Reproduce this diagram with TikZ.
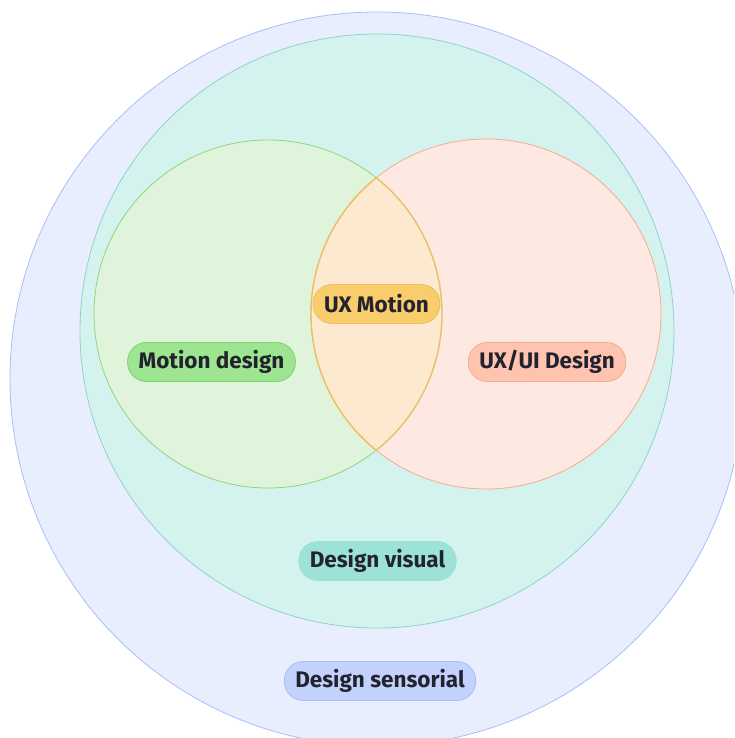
\documentclass[tikz,border=0pt]{standalone}
\usepackage{fontspec}
\setmainfont{Fira Sans}
\usepackage{tikz}

\definecolor{sensfill}{HTML}{E8EEFD}
\definecolor{sensline}{HTML}{A9BEF9}
\definecolor{senspill}{HTML}{C3D2FD}
\definecolor{visfill}{HTML}{D5F3EE}
\definecolor{visline}{HTML}{8FD4C7}
\definecolor{vispill}{HTML}{9CE2D6}
\definecolor{motfill}{HTML}{E0F4DC}
\definecolor{motline}{HTML}{8ED57F}
\definecolor{motpill}{HTML}{9EE592}
\definecolor{motpillline}{HTML}{7FD170}
\definecolor{uxfill}{HTML}{FEE8E2}
\definecolor{uxline}{HTML}{F4AC90}
\definecolor{uxpill}{HTML}{FEC4AF}
\definecolor{lensfill}{HTML}{FDE8D0}
\definecolor{lensline}{HTML}{E9C063}
\definecolor{lenspill}{HTML}{F9CC6C}
\definecolor{labeltext}{HTML}{22232F}

\tikzset{
  pill/.style={rounded corners=19pt, minimum height=39pt, inner xsep=11pt,
    inner ysep=0pt, line width=0.8pt, text=labeltext,
    font=\fontsize{22.5}{24}\selectfont\bfseries},
}

\begin{document}
\begin{tikzpicture}[x=1pt,y=-1pt]
  \useasboundingbox (0,0) rectangle (734,738);
  \clip (0,0) rectangle (734,738);
  % nested sets
  \draw[sensline, fill=sensfill, line width=0.8pt] (377,379) circle [radius=367pt];
  \draw[visline, fill=visfill, line width=0.8pt] (377,331) circle [radius=297pt];
  \draw[motline, fill=motfill, line width=0.8pt] (268,314) circle [radius=174pt];
  \draw[uxline, fill=uxfill, line width=0.8pt] (486,314) circle [radius=175pt];
  % overlap of the two inner circles
  \begin{scope}
    \clip (268,314) circle [radius=174pt];
    \draw[lensline, fill=lensfill, line width=1.4pt] (486,314) circle [radius=175pt];
  \end{scope}
  \begin{scope}
    \clip (486,314) circle [radius=175pt];
    \draw[lensline, line width=1.4pt] (268,314) circle [radius=174pt];
  \end{scope}

  \node[pill, draw=motpillline, fill=motpill] (motion) at (211.5,362) {Motion design};
  \node[pill, draw=lensline, fill=lenspill] (uxmotion) at (376.5,304) {UX Motion};
  \node[pill, draw=uxline, fill=uxpill] (uxui) at (547,362) {UX/UI Design};
  \node[pill, draw=vispill, fill=vispill] (visual) at (377.5,561) {Design visual};
  \node[pill, draw=sensline, fill=senspill] (sensorial) at (380,681) {Design sensorial};
\end{tikzpicture}
\end{document}
